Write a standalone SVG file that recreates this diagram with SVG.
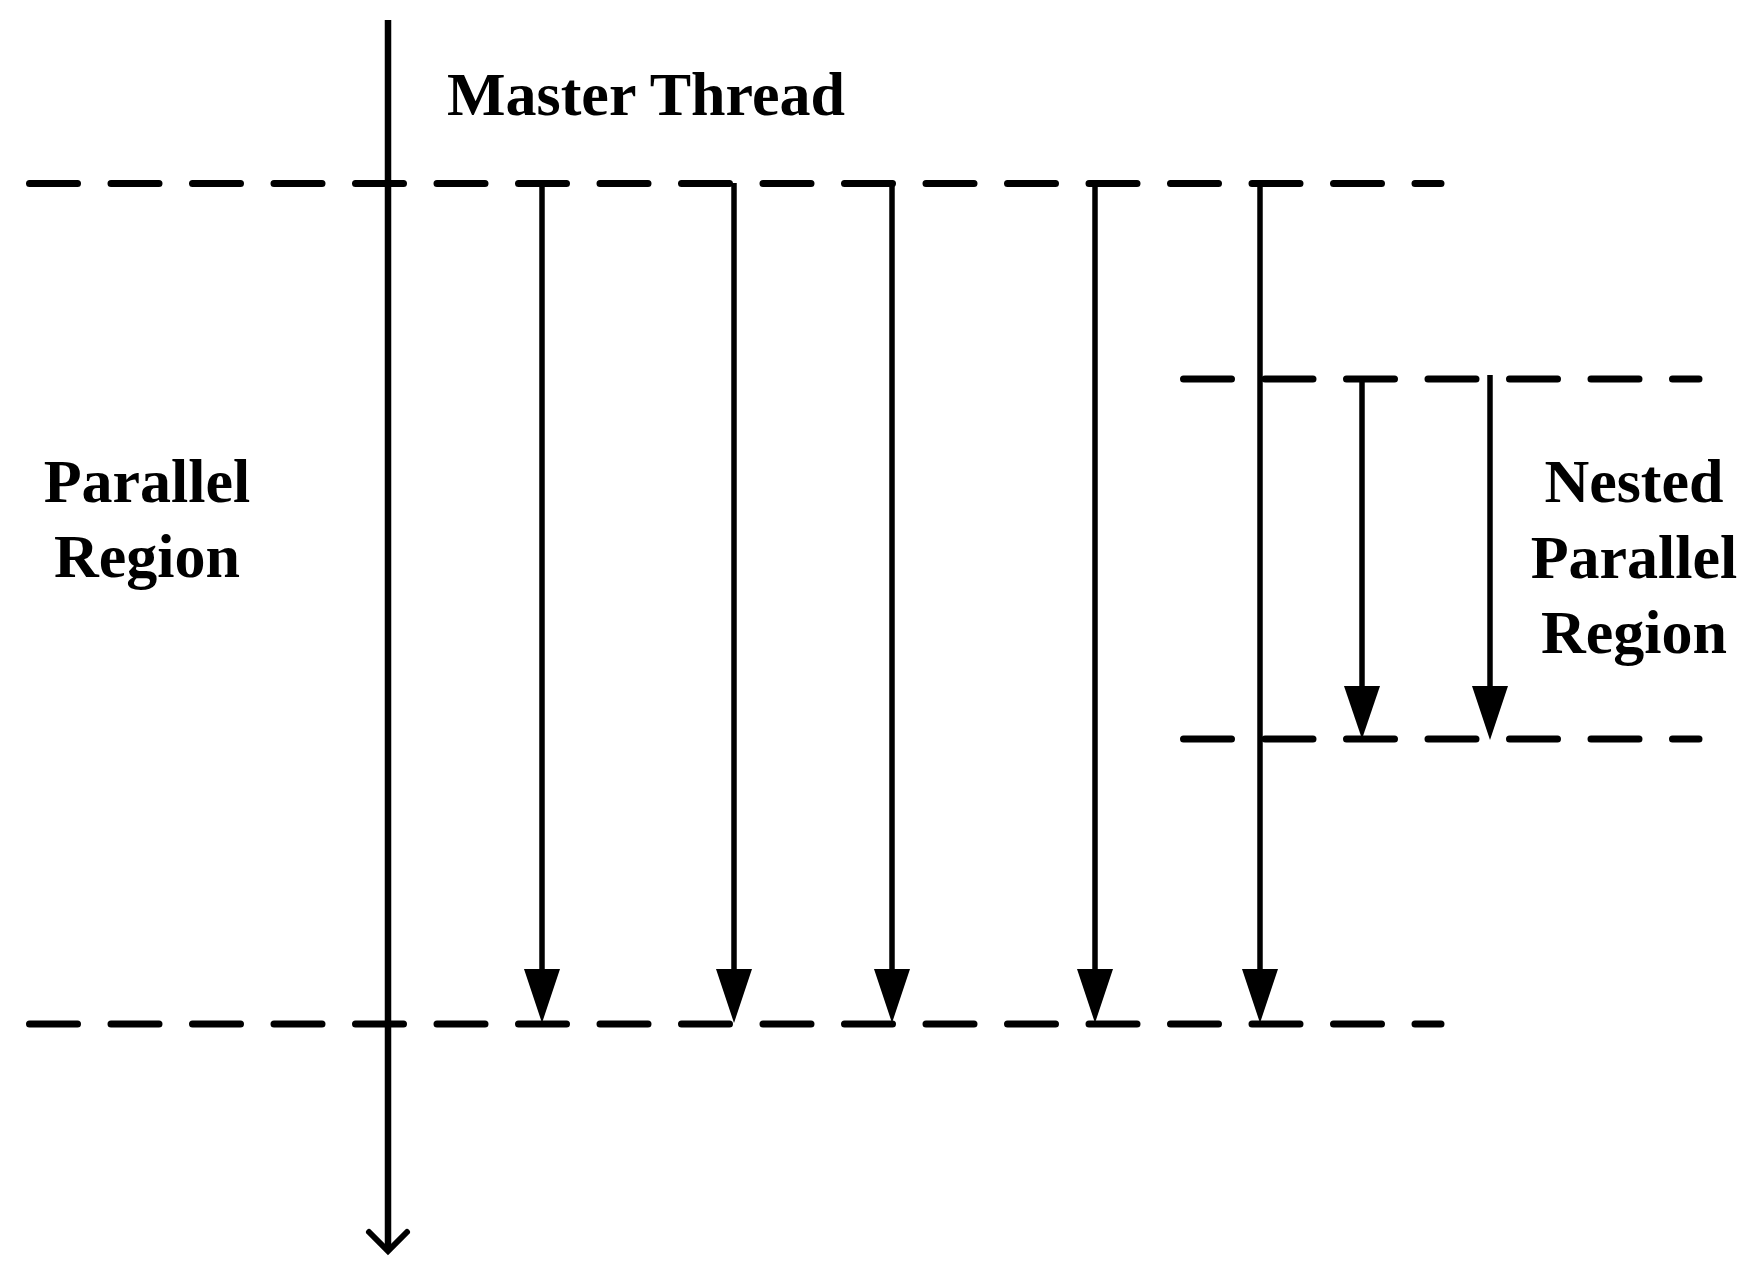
<svg xmlns="http://www.w3.org/2000/svg" width="1757" height="1266" viewBox="0 0 1757 1266">
<style>
.dash{stroke:#000;stroke-width:7;stroke-linecap:round;stroke-dasharray:48 33.5;fill:none}
.thr{stroke:#000;stroke-width:5.5;fill:none}
.head{fill:#000}
.lbl{font-family:"Liberation Serif","Times New Roman",serif;font-weight:bold;font-size:62px;fill:#000;text-anchor:middle}
</style>
<rect width="1757" height="1266" fill="#fff"/>
<g id="regions">
<line class="dash" x1="29.5" y1="183.5" x2="1441" y2="183.5"/>
<line class="dash" x1="29.5" y1="1024" x2="1441" y2="1024"/>
<line class="dash" x1="1183.5" y1="379" x2="1699" y2="379"/>
<line class="dash" x1="1183.5" y1="739" x2="1699" y2="739"/>
</g>
<g id="master">
<line x1="388" y1="20" x2="388" y2="1250" stroke="#000" stroke-width="6.5"/>
<polyline points="369,1232 388,1251 407,1232" fill="none" stroke="#000" stroke-width="6" stroke-linecap="round" stroke-linejoin="miter"/>
</g>
<g id="connectors">
<line class="thr" x1="542" y1="183" x2="542" y2="975"/>
<polygon class="head" points="524,969 560,969 542,1023"/>
<line class="thr" x1="734" y1="183" x2="734" y2="975"/>
<polygon class="head" points="716,969 752,969 734,1023"/>
<line class="thr" x1="892" y1="183" x2="892" y2="975"/>
<polygon class="head" points="874,969 910,969 892,1023"/>
<line class="thr" x1="1095" y1="183" x2="1095" y2="975"/>
<polygon class="head" points="1077,969 1113,969 1095,1023"/>
<line class="thr" x1="1260" y1="183" x2="1260" y2="975"/>
<polygon class="head" points="1242,969 1278,969 1260,1023"/>
<line class="thr" x1="1362" y1="379" x2="1362" y2="692"/>
<polygon class="head" points="1344,686 1380,686 1362,739"/>
<line class="thr" x1="1490" y1="375" x2="1490" y2="692"/>
<polygon class="head" points="1472,686 1508,686 1490,740"/>
</g>
<g id="label-master"><text class="lbl" x="646" y="115">Master Thread</text></g>
<g id="label-parallel"><text class="lbl" x="147" y="502">Parallel</text><text class="lbl" x="147" y="577">Region</text></g>
<g id="label-nested"><text class="lbl" x="1634" y="502">Nested</text><text class="lbl" x="1634" y="578">Parallel</text><text class="lbl" x="1634" y="653">Region</text></g>
</svg>
